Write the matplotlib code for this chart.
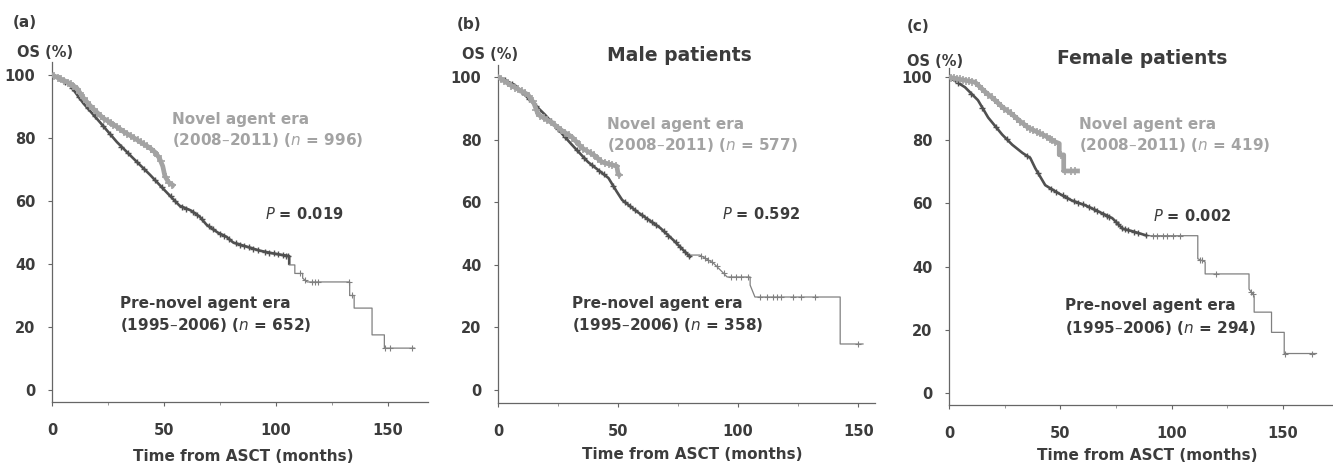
import numpy as np
import matplotlib
matplotlib.use("Agg")
import matplotlib.pyplot as plt
from matplotlib.ticker import MultipleLocator

plt.rcParams['font.family'] = ['DejaVu Sans']

W, H = 1333, 470

# ---------------- data ----------------
# Panel (a) all patients
a_novel_t = [0, 3, 6.7, 11, 14, 18, 22.8, 28, 32, 36, 40, 43.8, 46, 48, 49.5, 50.4, 52, 54]
a_novel_os = [100, 99, 97.8, 95.9, 92.7, 89.5, 86.3, 84, 82, 80.3, 78.5, 76.8, 75.5, 73.6, 71, 68, 66, 65]
a_novel_cens = [1, 2.5, 4.2, 5.5, 7.3, 8.4, 9.6, 11.2, 12.5, 14.1, 15.8, 17.2, 18.6, 20.3, 21.7, 23.1,
                24.8, 26.2, 27.4, 29.1, 30.6, 32.2, 33.5, 35.1, 36.6, 38.3, 39.7, 41.2, 42.6, 44.1,
                45.7, 47.2, 48.6, 50.8, 52.3, 53.6]
a_pre_t = [0, 4, 8, 14, 21.4, 29, 36.2, 43.8, 51, 57, 62, 66, 69, 74, 78, 81, 87, 93, 100, 106,
           106, 108.5, 108.5, 112, 112, 114, 133, 133, 135, 135, 143, 143, 148.5, 148.5, 162]
a_pre_os = [100, 98.8, 96.8, 91, 85, 78.7, 73.6, 68.3, 62.9, 58.5, 57, 55, 52.5, 50, 48.6, 46.8, 45.5,
            44.2, 43.2, 42.5, 39.7, 39.7, 37, 37, 35.5, 34.3, 34.3, 30, 30, 26, 26, 17.5, 17.5, 13.3, 13.3]
a_pre_cens = [3, 6, 9, 12, 16, 19, 23, 26, 31, 34, 38, 41, 46, 49, 53, 55, 58, 60, 63, 65, 67, 70, 72,
              75, 77, 79, 82, 84, 86, 88, 90, 92, 95, 97, 99, 101, 103, 104.5, 105.5, 111, 113,
              116, 117.5, 119, 132.5, 134, 148.8, 151, 161]

# Panel (b) male patients
b_novel_t = [0, 5, 12.5, 15, 16.7, 22.5, 26.7, 30.8, 35, 40, 43.3, 47.5, 49.5, 50, 50.5]
b_novel_os = [100, 97.5, 94.3, 91.5, 88, 85.3, 82.8, 80.8, 77.3, 75, 72.8, 71.9, 71.5, 69, 68.7]
b_novel_cens = [1.2, 2.6, 4, 5.6, 7.1, 8.4, 9.9, 11.3, 13, 14.4, 16, 17.5, 19, 20.6, 22, 23.6, 25,
                26.4, 27.9, 29.5, 31, 32.4, 34, 35.5, 37, 38.6, 40.1, 41.6, 43, 44.7, 46.2, 47.6, 49, 50.3]
b_pre_t = [0, 7, 19.6, 30.8, 37.5, 46, 49.5, 51.7, 58, 67.5, 73, 80, 80, 84, 89.6, 93.8, 95.4, 105,
           105, 107, 142.5, 142.5, 152]
b_pre_os = [100, 97.4, 87.9, 78.3, 72.8, 67.7, 63.3, 60.7, 56.9, 51.8, 47.9, 42.5, 43.1, 43.1, 40.6,
            37.4, 36.1, 36.1, 33.5, 29.7, 29.7, 14.7, 14.7]
b_pre_cens = [3, 6, 10, 13, 16, 22, 25, 28, 33, 36, 39, 42, 44, 48, 53, 55, 57, 60, 62, 64, 66, 69,
              71, 74, 76, 78, 79.5, 84.5, 86, 87.5, 89, 91, 94, 97, 99, 101, 104, 109, 112, 114.5,
              116, 118, 123, 126, 132, 150]

# Panel (c) female patients
c_novel_t = [0, 5, 11.7, 16, 20.7, 24, 28.4, 32, 35.6, 40, 43, 47.7, 49.5, 49.5, 51.5, 51.5, 57.7]
c_novel_os = [100, 99.3, 98.4, 95.5, 92.7, 90.5, 88.2, 86, 84, 82.5, 81.5, 79.5, 79, 75.4, 75.4, 70.3, 70.3]
c_novel_cens = [1, 2.3, 3.6, 5, 6.4, 7.8, 9.1, 10.5, 12, 13.4, 14.8, 16.2, 17.7, 19.1, 20.5, 22, 23.4,
                24.9, 26.3, 27.7, 29.2, 30.6, 32.1, 33.5, 35, 36.4, 37.9, 39.4, 40.8, 42.2, 43.8,
                45.2, 46.4, 47.4, 50.2, 52.3, 54.6, 56.4]
c_pre_t = [0, 7.2, 13, 17.6, 23.9, 28.4, 33, 36.5, 38.7, 43.2, 49, 55, 61.3, 67, 73.4, 78, 82.4, 89,
           111.7, 111.7, 115, 115, 134.7, 134.7, 137, 137, 144.8, 144.8, 150.5, 150.5, 165]
c_pre_os = [100, 96.8, 92.7, 87.2, 81.8, 78.6, 76, 74.4, 71.2, 65.8, 63.3, 61, 59.4, 57.5, 55.3, 52,
            51.2, 49.8, 49.8, 42.5, 41.5, 37.7, 37.7, 32.9, 30.7, 25.6, 25.6, 19.2, 19.2, 12.5, 12.5]
c_pre_cens = [4, 10, 15, 21, 26, 35, 40, 46, 48, 51, 53, 56, 58, 60, 63, 65, 66.5, 69, 71, 72, 75,
              76, 77.5, 79, 80.5, 83, 85, 88.5, 91.5, 93.5, 96, 98, 100.5, 103.5, 112.5, 113.5,
              120, 135.5, 136.3, 151, 163]

labels_n = [("996", "652"), ("577", "358"), ("419", "294")]
p_values = ["0.019", "0.592", "0.002"]
panel_tags = ["(a)", "(b)", "(c)"]
titles = ["", "Male patients", "Female patients"]
x_ticks = [0, 50, 100, 150]
y_ticks = [0, 20, 40, 60, 80, 100]

# ---------------- styling ----------------
DARK = "#3c3c3c"
NOVEL = "#a3a3a3"
PRE = "#505050"
TAIL = "#808080"
FS = 11

fig = plt.figure(figsize=(W / 100, H / 100), dpi=100)


def add_axes_px(left, right, top, bottom):
    return fig.add_axes([left / W, 1 - bottom / H, (right - left) / W, (bottom - top) / H])


def ftext(x, y, s, **kw):
    kw.setdefault("fontsize", FS)
    kw.setdefault("fontweight", "bold")
    kw.setdefault("color", DARK)
    kw.setdefault("va", "baseline")
    kw.setdefault("ha", "left")
    fig.text(x / W, 1 - y / H, s, **kw)


panels = [
    dict(rect=(52, 428, 62, 402), xlim=(0, 168), ylim=(-3.8, 104.1),
         novel=(a_novel_t, a_novel_os, a_novel_cens), pre=(a_pre_t, a_pre_os, a_pre_cens), split=106),
    dict(rect=(498, 875, 65, 403), xlim=(0, 157), ylim=(-4.15, 103.8),
         novel=(b_novel_t, b_novel_os, b_novel_cens), pre=(b_pre_t, b_pre_os, b_pre_cens), split=80),
    dict(rect=(949, 1333, 68, 405), xlim=(0, 172.4), ylim=(-3.8, 102.9),
         novel=(c_novel_t, c_novel_os, c_novel_cens), pre=(c_pre_t, c_pre_os, c_pre_cens), split=90),
]

axes = []
for p in panels:
    ax = add_axes_px(*p["rect"])
    axes.append(ax)
    ax.set_xlim(*p["xlim"])
    ax.set_ylim(*p["ylim"])
    for s in ["top", "right"]:
        ax.spines[s].set_visible(False)
    for s in ["left", "bottom"]:
        ax.spines[s].set_color("#666666")
        ax.spines[s].set_linewidth(0.9)
    ax.set_xticks(x_ticks)
    ax.set_yticks(y_ticks)
    ax.xaxis.set_minor_locator(MultipleLocator(25))
    ax.tick_params(axis="both", which="major", length=3, width=0.8, color="#666666",
                   labelsize=10.5, labelcolor=DARK, direction="out")
    ax.tick_params(axis="x", which="major", pad=12)
    ax.tick_params(axis="y", which="major", pad=9)
    ax.tick_params(axis="x", which="minor", length=2, width=0.6, color="#888888")
    for lab in ax.get_xticklabels() + ax.get_yticklabels():
        lab.set_fontweight("bold")
    ax.patch.set_alpha(0)

    # pre-novel era
    pt, pos, pc = p["pre"]
    pt = np.array(pt, float)
    pos = np.array(pos, float)
    main = pt <= p["split"]
    last = np.argmax(~main)
    ax.plot(pt[main], pos[main], color=PRE, lw=1.9, solid_capstyle="butt", zorder=3)
    ax.plot(pt[last - 1:], pos[last - 1:], color=TAIL, lw=0.9, zorder=3)
    pcy = np.interp(pc, pt, pos)
    pc = np.array(pc, float)
    ax.plot(pc[pc <= p["split"]], pcy[pc <= p["split"]], ls="none", marker="+", ms=5, mew=1.0,
            color=PRE, zorder=4)
    ax.plot(pc[pc > p["split"]], pcy[pc > p["split"]], ls="none", marker="+", ms=5, mew=0.8,
            color=TAIL, zorder=4)

    # novel agent era
    nt, nos, nc = p["novel"]
    ax.plot(nt, nos, color=NOVEL, lw=3.4, zorder=5, solid_joinstyle="round")
    ncy = np.interp(nc, nt, nos)
    ax.plot(nc, ncy, ls="none", marker="+", ms=6, mew=1.2, color=NOVEL, zorder=6)

# ---------------- texts ----------------
text_pos = [
    dict(tag=(13, 27), os=(17, 57), title=None, novel=(172, 124, 145), p=(265, 219),
         pre=(120, 308, 330), xl=(243, 461)),
    dict(tag=(457, 29), os=(462, 59), title=(607, 61), novel=(607, 129, 150), p=(722, 219),
         pre=(572, 308, 330), xl=(692, 459)),
    dict(tag=(907, 31), os=(907, 66), title=(1057, 64), novel=(1079, 129, 150), p=(1153, 221),
         pre=(1065, 310, 333), xl=(1147, 460)),
]

for i, tp in enumerate(text_pos):
    ftext(*tp["tag"], panel_tags[i], fontsize=11)
    ftext(*tp["os"], "OS (%)", fontsize=10.5)
    if tp["title"] is not None:
        ftext(*tp["title"], titles[i], fontsize=13.5)
    nx, ny1, ny2 = tp["novel"]
    ftext(nx, ny1, "Novel agent era", color=NOVEL)
    ftext(nx, ny2, "(2008\u20132011) ($\\it{n}$ = " + labels_n[i][0] + ")", color=NOVEL)
    ftext(*tp["p"], "$\\it{P}$ = " + p_values[i], fontsize=10.5)
    px, py1, py2 = tp["pre"]
    ftext(px, py1, "Pre-novel agent era")
    ftext(px, py2, "(1995\u20132006) ($\\it{n}$ = " + labels_n[i][1] + ")")
    ftext(*tp["xl"], "Time from ASCT (months)", ha="center")

fig.savefig("out.png", dpi=100, facecolor="white")
